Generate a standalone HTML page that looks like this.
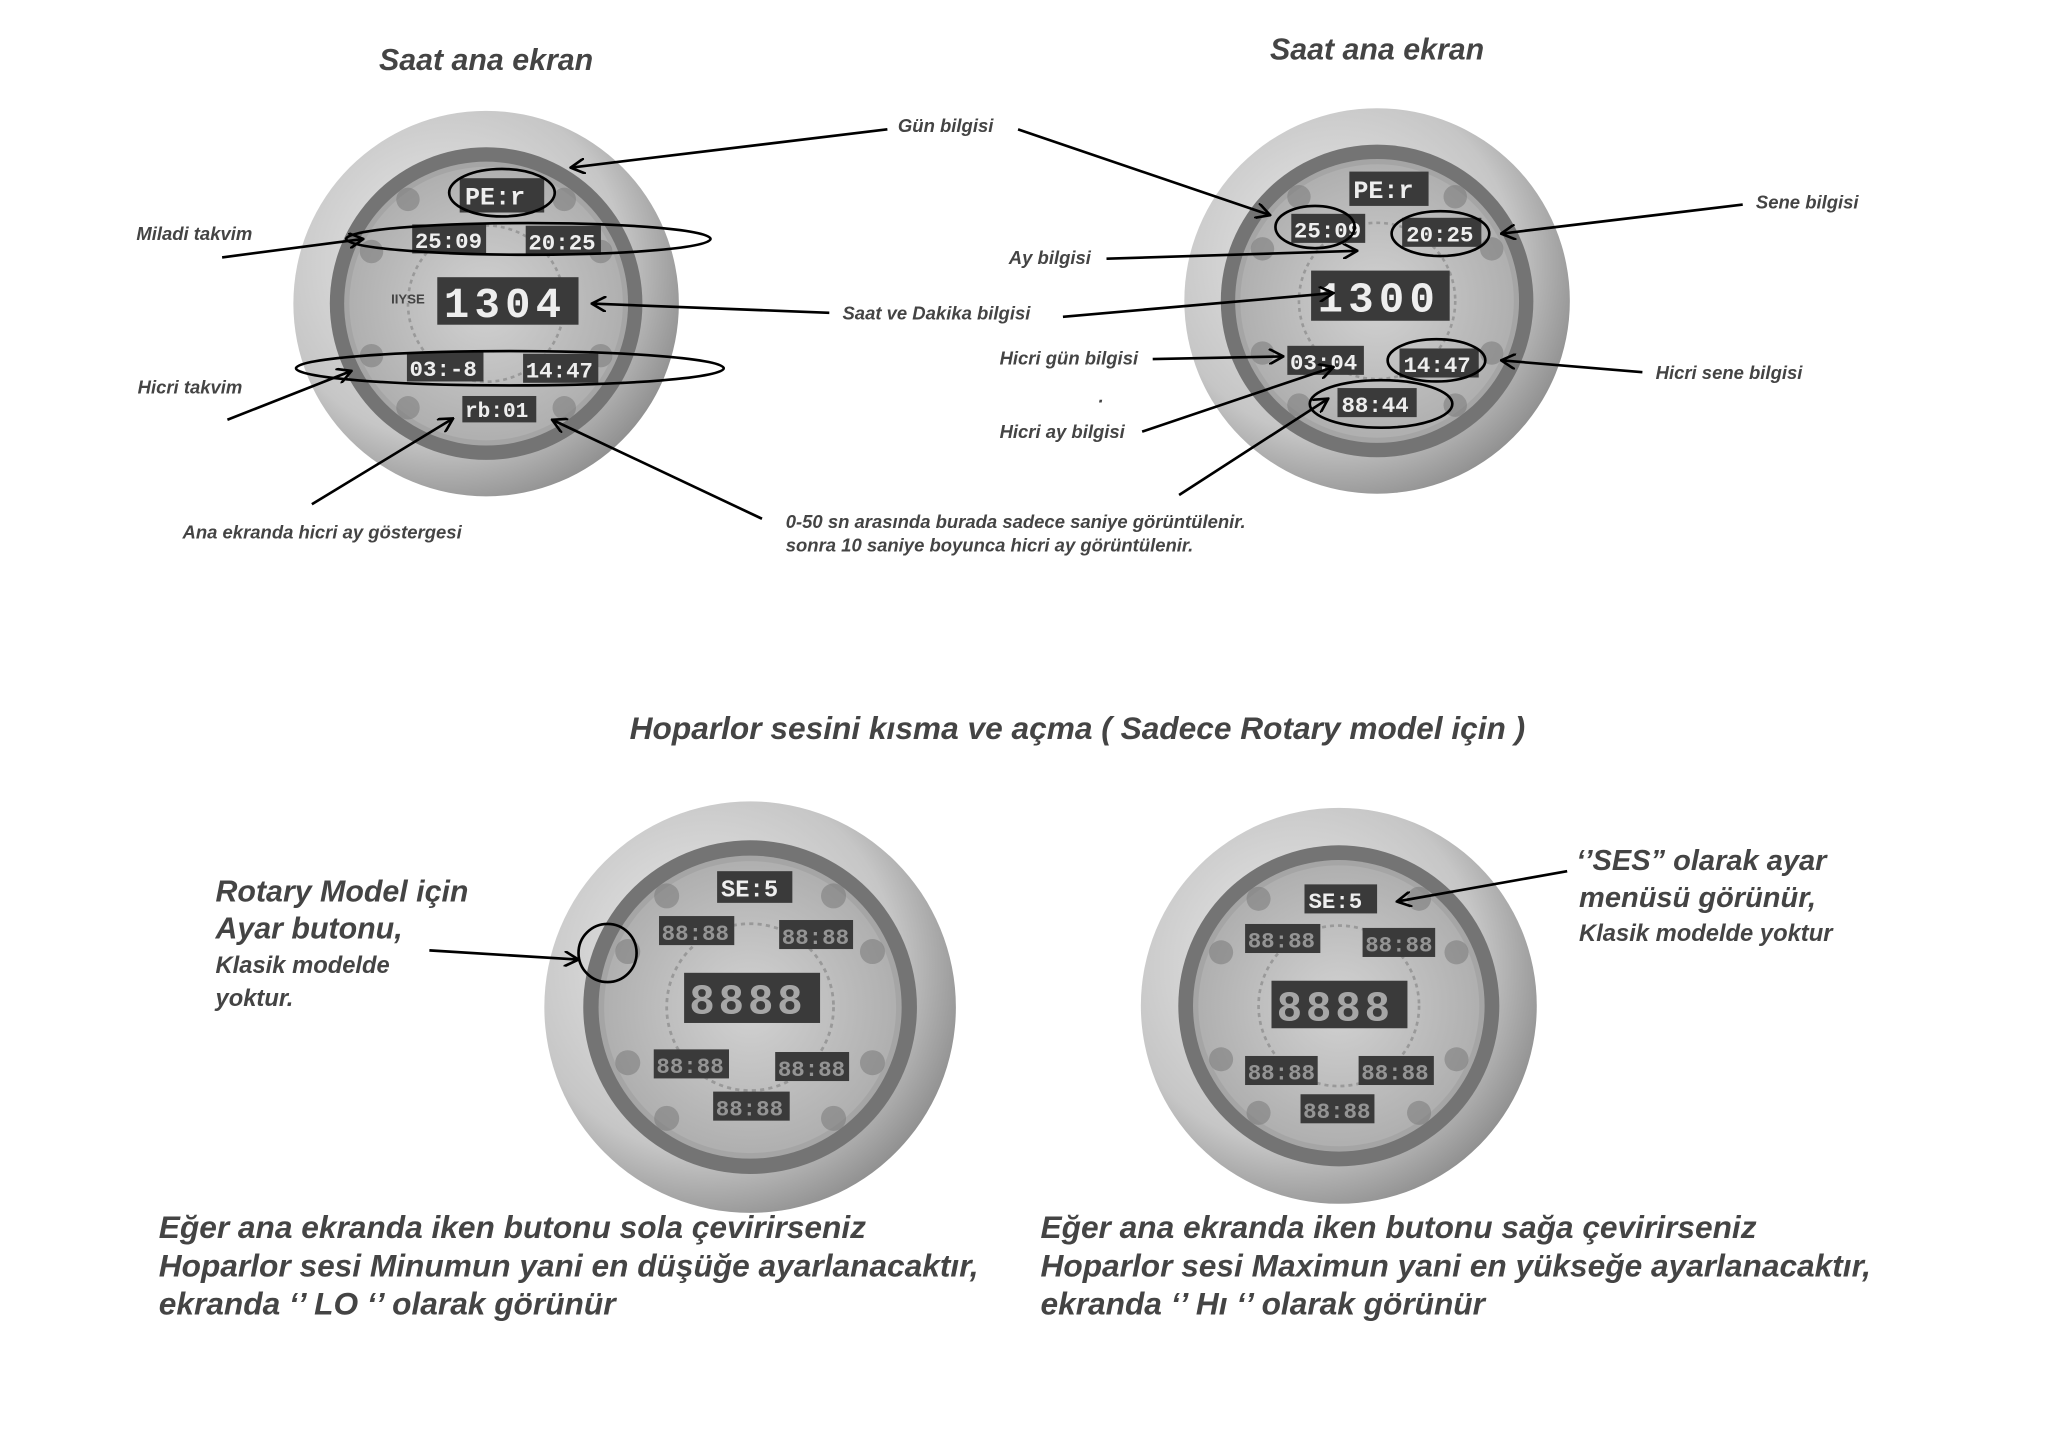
<!DOCTYPE html>
<html><head><meta charset="utf-8"><style>
html,body{margin:0;padding:0;background:#fff;}
svg{display:block}
text{font-family:"Liberation Sans",sans-serif;font-weight:bold;font-style:italic;fill:#444;}
.led{font-family:"Liberation Mono",monospace;font-style:normal;font-weight:bold;fill:#eee;}
</style></head><body>
<svg width="2048" height="1448" viewBox="0 0 1551 1097" xmlns="http://www.w3.org/2000/svg">
<defs>
<radialGradient id="og" cx="40%" cy="40%" r="65%"><stop offset="0" stop-color="#ececec"/><stop offset="0.7" stop-color="#c6c6c6"/><stop offset="1" stop-color="#8e8e8e"/></radialGradient>
<radialGradient id="fg" cx="50%" cy="50%" r="55%"><stop offset="0" stop-color="#d2d2d2"/><stop offset="1" stop-color="#acacac"/></radialGradient>
<marker id="ah" markerWidth="12" markerHeight="12" refX="11" refY="6" orient="auto" markerUnits="userSpaceOnUse"><path d="M0,0 L11,6 L0,12" fill="none" stroke="#000" stroke-width="2"/></marker>
<symbol id="clk" viewBox="-150 -150 300 300">
<circle r="148" fill="url(#og)"/>
<circle r="120" fill="#747474"/>
<circle r="109" fill="#a5a5a5"/>
<circle r="105" fill="url(#fg)"/>
<g fill="#7a7a7a" opacity="0.55">
<circle cx="-88" cy="-40" r="9"/><circle cx="88" cy="-40" r="9"/><circle cx="-88" cy="40" r="9"/><circle cx="88" cy="40" r="9"/>
<circle cx="-60" cy="-80" r="9"/><circle cx="60" cy="-80" r="9"/><circle cx="-60" cy="80" r="9"/><circle cx="60" cy="80" r="9"/>
</g>
<circle r="60" fill="none" stroke="#999" stroke-width="2" stroke-dasharray="3 3"/>
</symbol>
</defs>

<!-- TL clock -->
<use href="#clk" x="220" y="82" width="296" height="296"/>
<g>
<rect x="348" y="135" width="64" height="26" fill="#3a3a3a"/><text class="led" x="352" y="155" font-size="19">PE:r</text>
<rect x="312" y="170" width="56" height="22" fill="#3a3a3a"/><text class="led" x="314" y="188" font-size="17">25:09</text>
<rect x="398" y="171" width="57" height="22" fill="#3a3a3a"/><text class="led" x="400" y="189" font-size="17">20:25</text>
<rect x="331" y="210" width="107" height="36" fill="#3a3a3a"/><text class="led" x="336" y="240" font-size="32" letter-spacing="4">1304</text>
<rect x="308" y="267" width="58" height="22" fill="#3a3a3a"/><text class="led" x="310" y="285" font-size="17">03:-8</text>
<rect x="396" y="268" width="57" height="22" fill="#3a3a3a"/><text class="led" x="398" y="286" font-size="17">14:47</text>
<rect x="350" y="300" width="56" height="20" fill="#3a3a3a"/><text class="led" x="352" y="316" font-size="16">rb:01</text>
<text x="296" y="230" font-size="10" style="font-style:normal" fill="#666">IIYSE</text>
</g>
<g fill="none" stroke="#000" stroke-width="2">
<ellipse cx="380" cy="146" rx="40" ry="18"/>
<ellipse cx="400" cy="181" rx="138" ry="12"/>
<ellipse cx="386" cy="279" rx="162" ry="13"/>
<line x1="672" y1="98" x2="432" y2="127" marker-end="url(#ah)"/>
<line x1="168" y1="195" x2="275" y2="181" marker-end="url(#ah)"/>
<line x1="628" y1="237" x2="448" y2="230" marker-end="url(#ah)"/>
<line x1="172" y1="318" x2="266" y2="281" marker-end="url(#ah)"/>
<line x1="236" y1="382" x2="343" y2="317" marker-end="url(#ah)"/>
<line x1="577" y1="393" x2="418" y2="318" marker-end="url(#ah)"/>
</g>
<text x="368" y="53" font-size="23" text-anchor="middle" fill="#555">Saat ana ekran</text>
<text x="680" y="100" font-size="14">Gün bilgisi</text>
<text x="103" y="182" font-size="14">Miladi takvim</text>
<text x="638" y="242" font-size="14">Saat ve Dakika bilgisi</text>
<text x="104" y="298" font-size="14">Hicri takvim</text>
<text x="138" y="408" font-size="14">Ana ekranda hicri ay göstergesi</text>
<text x="595" y="400" font-size="14">0-50 sn arasında burada sadece saniye görüntülenir.</text>
<text x="595" y="418" font-size="14">sonra 10 saniye boyunca hicri ay görüntülenir.</text>

<!-- TR clock -->
<use href="#clk" x="895" y="80" width="296" height="296"/>
<g>
<rect x="1022" y="130" width="60" height="26" fill="#3a3a3a"/><text class="led" x="1025" y="150" font-size="19">PE:r</text>
<rect x="978" y="162" width="56" height="22" fill="#3a3a3a"/><text class="led" x="980" y="180" font-size="17">25:09</text>
<rect x="1062" y="165" width="60" height="22" fill="#3a3a3a"/><text class="led" x="1065" y="183" font-size="17">20:25</text>
<rect x="993" y="205" width="105" height="38" fill="#3a3a3a"/><text class="led" x="998" y="236" font-size="32" letter-spacing="4">1300</text>
<rect x="975" y="262" width="58" height="22" fill="#3a3a3a"/><text class="led" x="977" y="280" font-size="17">03:04</text>
<rect x="1060" y="264" width="60" height="22" fill="#3a3a3a"/><text class="led" x="1063" y="282" font-size="17">14:47</text>
<rect x="1013" y="294" width="60" height="22" fill="#3a3a3a"/><text class="led" x="1016" y="312" font-size="17">88:44</text>
</g>
<g fill="none" stroke="#000" stroke-width="2">
<ellipse cx="996" cy="172" rx="30" ry="16"/>
<ellipse cx="1091" cy="177" rx="37" ry="17"/>
<ellipse cx="1088" cy="273" rx="37" ry="16"/>
<ellipse cx="1046" cy="306" rx="54" ry="18"/>
<line x1="771" y1="98" x2="962" y2="163" marker-end="url(#ah)"/>
<line x1="838" y1="196" x2="1028" y2="190" marker-end="url(#ah)"/>
<line x1="805" y1="240" x2="1010" y2="222" marker-end="url(#ah)"/>
<line x1="873" y1="272" x2="972" y2="270" marker-end="url(#ah)"/>
<line x1="865" y1="327" x2="1010" y2="278" marker-end="url(#ah)"/>
<line x1="893" y1="375" x2="1006" y2="302" marker-end="url(#ah)"/>
<line x1="1320" y1="155" x2="1137" y2="177" marker-end="url(#ah)"/>
<line x1="1244" y1="282" x2="1137" y2="273" marker-end="url(#ah)"/>
</g>
<text x="1043" y="45" font-size="23" text-anchor="middle" fill="#555">Saat ana ekran</text>
<text x="1330" y="158" font-size="14">Sene bilgisi</text>
<text x="764" y="200" font-size="14">Ay bilgisi</text>
<text x="757" y="276" font-size="14">Hicri gün bilgisi</text>
<text x="832" y="305" font-size="14">.</text>
<text x="757" y="332" font-size="14">Hicri ay bilgisi</text>
<text x="1254" y="287" font-size="14">Hicri sene bilgisi</text>

<text x="816" y="560" font-size="24" text-anchor="middle" fill="#555">Hoparlor sesini kısma ve açma  ( Sadece Rotary model için )</text>

<!-- BL clock -->
<use href="#clk" x="410" y="605" width="316" height="316"/>
<g>
<rect x="543" y="660" width="57" height="24" fill="#3a3a3a"/><text class="led" x="546" y="679" font-size="18">SE:5</text>
<rect x="499" y="694" width="57" height="22" fill="#3a3a3a"/><text class="led" x="501" y="712" font-size="17" fill-opacity="0.5">88:88</text>
<rect x="590" y="697" width="56" height="22" fill="#3a3a3a"/><text class="led" x="592" y="715" font-size="17" fill-opacity="0.5">88:88</text>
<rect x="518" y="737" width="103" height="38" fill="#3a3a3a"/><text class="led" x="522" y="768" font-size="32" letter-spacing="3" fill-opacity="0.6">8888</text>
<rect x="495" y="795" width="57" height="22" fill="#3a3a3a"/><text class="led" x="497" y="813" font-size="17" fill-opacity="0.5">88:88</text>
<rect x="587" y="797" width="56" height="22" fill="#3a3a3a"/><text class="led" x="589" y="815" font-size="17" fill-opacity="0.5">88:88</text>
<rect x="540" y="827" width="58" height="22" fill="#3a3a3a"/><text class="led" x="542" y="845" font-size="17" fill-opacity="0.5">88:88</text>
</g>
<g fill="none" stroke="#000" stroke-width="2">
<circle cx="460" cy="722" r="22"/>
<line x1="325" y1="720" x2="438" y2="727" marker-end="url(#ah)"/>
</g>
<text x="163" y="683" font-size="23" fill="#555">Rotary Model için</text>
<text x="163" y="711" font-size="23" fill="#555">Ayar butonu,</text>
<text x="163" y="737" font-size="18">Klasik modelde</text>
<text x="163" y="762" font-size="18">yoktur.</text>

<!-- BR clock -->
<use href="#clk" x="862" y="610" width="304" height="304"/>
<g>
<rect x="988" y="670" width="55" height="22" fill="#3a3a3a"/><text class="led" x="991" y="688" font-size="17">SE:5</text>
<rect x="943" y="700" width="57" height="22" fill="#3a3a3a"/><text class="led" x="945" y="718" font-size="17" fill-opacity="0.5">88:88</text>
<rect x="1032" y="703" width="55" height="22" fill="#3a3a3a"/><text class="led" x="1034" y="721" font-size="17" fill-opacity="0.5">88:88</text>
<rect x="963" y="743" width="103" height="36" fill="#3a3a3a"/><text class="led" x="967" y="773" font-size="32" letter-spacing="3" fill-opacity="0.6">8888</text>
<rect x="943" y="800" width="55" height="22" fill="#3a3a3a"/><text class="led" x="945" y="818" font-size="17" fill-opacity="0.5">88:88</text>
<rect x="1029" y="800" width="57" height="22" fill="#3a3a3a"/><text class="led" x="1031" y="818" font-size="17" fill-opacity="0.5">88:88</text>
<rect x="985" y="829" width="56" height="22" fill="#3a3a3a"/><text class="led" x="987" y="847" font-size="17" fill-opacity="0.5">88:88</text>
</g>
<line x1="1187" y1="660" x2="1058" y2="683" stroke="#000" stroke-width="2" marker-end="url(#ah)"/>
<text x="1194" y="659" font-size="22" fill="#555">‘’SES” olarak ayar</text>
<text x="1196" y="687" font-size="22" fill="#555">menüsü görünür,</text>
<text x="1196" y="713" font-size="18">Klasik modelde yoktur</text>

<g font-size="24">
<text x="120" y="938" fill="#555">Eğer ana ekranda iken butonu sola çevirirseniz</text>
<text x="120" y="967" fill="#555">Hoparlor sesi Minumun yani en düşüğe ayarlanacaktır,</text>
<text x="120" y="996" fill="#555">ekranda ‘’ LO ‘’ olarak görünür</text>
<text x="788" y="938" fill="#555">Eğer ana ekranda iken butonu sağa çevirirseniz</text>
<text x="788" y="967" fill="#555">Hoparlor sesi Maximun yani en yükseğe ayarlanacaktır,</text>
<text x="788" y="996" fill="#555">ekranda ‘’ Hı ‘’ olarak görünür</text>
</g>
</svg>
</body></html>
